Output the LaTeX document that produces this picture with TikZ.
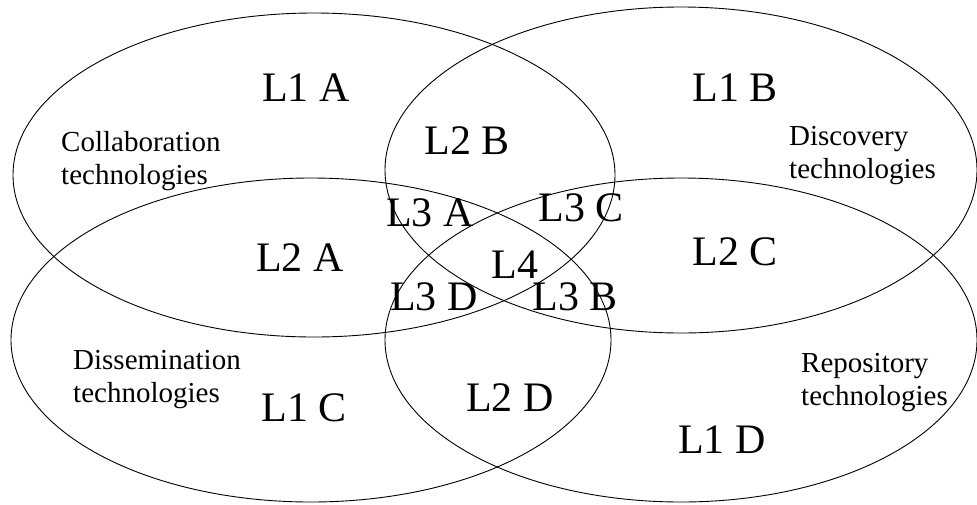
\documentclass[tikz,border=0pt]{standalone}
\usepackage{fontspec}
\setmainfont{Liberation Serif}
\begin{document}
\begin{tikzpicture}[x=1pt,y=-1pt,
  set/.style={draw=black,line width=0.9pt},
  big/.style={font=\fontsize{42}{48}\selectfont,inner sep=0pt,anchor=center},
  small/.style={font=\fontsize{29}{33}\selectfont,inner sep=0pt,anchor=north west,align=left}]
\useasboundingbox (0,0) rectangle (977,504);
\fill[white] (0,0) rectangle (977,504);
% sets
\draw[set] (314,175) ellipse [x radius=301pt, y radius=162pt];
\draw[set] (681,170) ellipse [x radius=296pt, y radius=163pt];
\draw[set] (311,340) ellipse [x radius=300pt, y radius=162pt];
\draw[set] (681,340) ellipse [x radius=296pt, y radius=162pt];
% region labels
\node[big] (l1a) at (306,88) {L1 A};
\node[big] (l1b) at (735,88) {L1 B};
\node[big] (l2b) at (467,141) {L2 B};
\node[big] (l3a) at (430,213) {L3 A};
\node[big] (l3c) at (581,208) {L3 C};
\node[big] (l2a) at (300,258) {L2 A};
\node[big] (l4) at (515,265) {L4};
\node[big] (l2c) at (735,252) {L2 C};
\node[big] (l3d) at (434,297) {L3 D};
\node[big] (l3b) at (575,297) {L3 B};
\node[big] (l1c) at (304,408) {L1 C};
\node[big] (l2d) at (510,398) {L2 D};
\node[big] (l1d) at (722,440) {L1 D};
% set names
\node[small] (collab) at (61,131) {Collaboration\\technologies};
\node[small] (disc) at (789,126) {Discovery\\technologies};
\node[small] (dissem) at (73,350) {Dissemination\\technologies};
\node[small] (repo) at (801,353) {Repository\\technologies};
\end{tikzpicture}
\end{document}
